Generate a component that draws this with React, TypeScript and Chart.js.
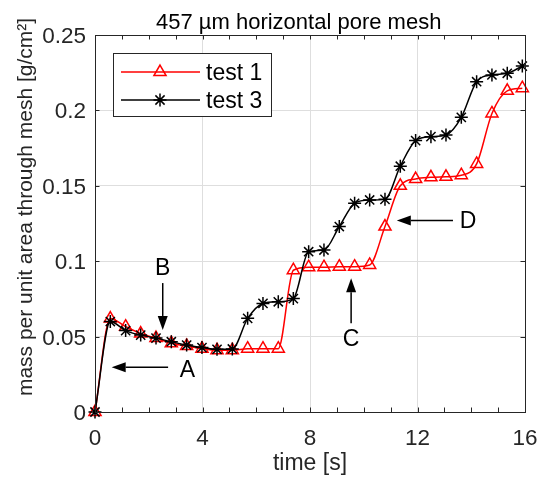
import React, { useEffect, useRef } from 'react';
import { Chart, registerables } from 'chart.js';
Chart.register(...registerables);

// ---- data ----
const time = [0, 0.57, 1.14, 1.7, 2.27, 2.84, 3.41, 3.98, 4.54, 5.11, 5.68, 6.25, 6.82, 7.38, 7.95, 8.52, 9.09, 9.66, 10.22, 10.79, 11.36, 11.93, 12.5, 13.06, 13.63, 14.2, 14.77, 15.34, 15.9];
const test1 = [0, 0.062, 0.0566, 0.052, 0.049, 0.0456, 0.0438, 0.042, 0.041, 0.041, 0.042, 0.042, 0.042, 0.094, 0.096, 0.096, 0.0964, 0.0964, 0.0975, 0.123, 0.15, 0.1545, 0.1556, 0.156, 0.157, 0.1645, 0.198, 0.213, 0.2147];
const test3 = [0, 0.06, 0.054, 0.051, 0.049, 0.0466, 0.0444, 0.0427, 0.0416, 0.0418, 0.0621, 0.072, 0.0731, 0.0752, 0.1063, 0.1074, 0.123, 0.1384, 0.1406, 0.141, 0.163, 0.18, 0.1826, 0.1837, 0.1954, 0.219, 0.2235, 0.2246, 0.2294];
const seriesNames = ['test 1', 'test 3'];
const xTicks = [0, 4, 8, 12, 16];
const xTickLabels = ['0', '4', '8', '12', '16'];
const yTicks = [0, 0.05, 0.1, 0.15, 0.2, 0.25];
const yTickLabels = ['0', '0.05', '0.1', '0.15', '0.2', '0.25'];
const titleText = '457 \u00b5m horizontal pore mesh';
const xTitle = 'time [s]';
const yTitle = 'mass per unit area through mesh [g/cm\u00b2]';
// annotation arrows (data coordinates)
const arrowLabels = ['A', 'B', 'C', 'D'];
const arrowTails = [[2.72, 0.0296], [2.52, 0.0855], [9.53, 0.0588], [13.32, 0.127]];
const arrowTips = [[0.62, 0.0296], [2.52, 0.0544], [9.53, 0.0887], [11.23, 0.127]];
const arrowLabelPos = [[3.44, 0.0282], [2.52, 0.0962], [9.53, 0.049], [13.88, 0.127]];

const FONT = '"Liberation Sans", Arial, Helvetica, sans-serif';
const AX = '#262626';
const RED = '#ff0000';

function drawTriangle(ctx: CanvasRenderingContext2D, x: number, y: number, r: number) {
  ctx.beginPath();
  let rad = 0;
  ctx.moveTo(x + Math.sin(rad) * r, y - Math.cos(rad) * r);
  rad += (2 * Math.PI) / 3;
  ctx.lineTo(x + Math.sin(rad) * r, y - Math.cos(rad) * r);
  rad += (2 * Math.PI) / 3;
  ctx.lineTo(x + Math.sin(rad) * r, y - Math.cos(rad) * r);
  ctx.closePath();
  ctx.stroke();
}
function drawStar(ctx: CanvasRenderingContext2D, x: number, y: number, r: number) {
  ctx.beginPath();
  for (let k = 0; k < 4; k++) {
    const a = (k * Math.PI) / 4;
    ctx.moveTo(x - Math.cos(a) * r, y - Math.sin(a) * r);
    ctx.lineTo(x + Math.cos(a) * r, y + Math.sin(a) * r);
  }
  ctx.stroke();
}

const decorPlugin = {
  id: 'decor',
  afterDatasetsDraw(chart: any) {
    const { ctx, chartArea: a, scales } = chart;
    const xs = scales.x, ys = scales.y;
    ctx.save();
    // box
    ctx.strokeStyle = AX;
    ctx.lineWidth = 1;
    ctx.strokeRect(Math.round(a.left) + 0.5, Math.round(a.top) + 0.5, Math.round(a.right - a.left), Math.round(a.bottom - a.top));
    // ticks (inward)
    const tl = 4.5;
    ctx.beginPath();
    for (let t = 0; t <= 16; t += 1) {
      const px = Math.round(xs.getPixelForValue(t)) + 0.5;
      ctx.moveTo(px, a.bottom);
      ctx.lineTo(px, a.bottom - tl);
      ctx.moveTo(px, a.top);
      ctx.lineTo(px, a.top + tl);
    }
    for (const v of yTicks) {
      const py = Math.round(ys.getPixelForValue(v)) + 0.5;
      ctx.moveTo(a.left, py);
      ctx.lineTo(a.left + tl, py);
      ctx.moveTo(a.right, py);
      ctx.lineTo(a.right - tl, py);
    }
    ctx.stroke();

    // tick labels
    ctx.fillStyle = AX;
    ctx.font = `22.5px ${FONT}`;
    ctx.textAlign = 'center';
    ctx.textBaseline = 'alphabetic';
    xTicks.forEach((v, i) => ctx.fillText(xTickLabels[i], xs.getPixelForValue(v), a.bottom + 33));
    ctx.textAlign = 'right';
    yTicks.forEach((v, i) => ctx.fillText(yTickLabels[i], a.left - 9, ys.getPixelForValue(v) + 8));

    // legend
    const lx = 113, ly = 53, lw = 158, lh = 63;
    ctx.fillStyle = '#ffffff';
    ctx.fillRect(lx, ly, lw, lh);
    ctx.strokeStyle = AX;
    ctx.lineWidth = 1;
    ctx.strokeRect(lx + 0.5, ly + 0.5, lw, lh);
    const rows = [72, 100];
    const colors = [RED, '#000000'];
    rows.forEach((ry, i) => {
      ctx.strokeStyle = colors[i];
      ctx.lineWidth = 1.5;
      ctx.beginPath();
      ctx.moveTo(121, ry);
      ctx.lineTo(200, ry);
      ctx.stroke();
      if (i === 0) drawTriangle(ctx, 160, ry, 7);
      else drawStar(ctx, 160, ry, 6.5);
      ctx.fillStyle = '#000';
      ctx.font = `23px ${FONT}`;
      ctx.textAlign = 'left';
      ctx.textBaseline = 'alphabetic';
      ctx.fillText(seriesNames[i], 206, ry + 8);
    });

    // arrows
    ctx.strokeStyle = '#000';
    ctx.fillStyle = '#000';
    ctx.lineWidth = 1.5;
    arrowLabels.forEach((lab, i) => {
      const x0 = xs.getPixelForValue(arrowTails[i][0]);
      const y0 = ys.getPixelForValue(arrowTails[i][1]);
      const x1 = xs.getPixelForValue(arrowTips[i][0]);
      const y1 = ys.getPixelForValue(arrowTips[i][1]);
      const ang = Math.atan2(y1 - y0, x1 - x0);
      const hl = 14, hw = 5;
      const bx = x1 - Math.cos(ang) * hl, by = y1 - Math.sin(ang) * hl;
      ctx.beginPath();
      ctx.moveTo(x0, y0);
      ctx.lineTo(bx, by);
      ctx.stroke();
      ctx.beginPath();
      ctx.moveTo(x1, y1);
      ctx.lineTo(bx - Math.sin(ang) * hw, by + Math.cos(ang) * hw);
      ctx.lineTo(bx + Math.sin(ang) * hw, by - Math.cos(ang) * hw);
      ctx.closePath();
      ctx.fill();
      ctx.font = `23px ${FONT}`;
      ctx.textAlign = 'center';
      ctx.textBaseline = 'alphabetic';
      ctx.fillText(lab, xs.getPixelForValue(arrowLabelPos[i][0]), ys.getPixelForValue(arrowLabelPos[i][1]) + 8);
    });

    // titles
    ctx.fillStyle = '#000';
    ctx.font = `22px ${FONT}`;
    ctx.textAlign = 'left';
    ctx.textBaseline = 'alphabetic';
    ctx.fillText(titleText, 156, 29);
    ctx.fillStyle = AX;
    ctx.font = `23px ${FONT}`;
    ctx.textAlign = 'center';
    ctx.fillText(xTitle, (a.left + a.right) / 2, 470);
    ctx.save();
    ctx.translate(32, 207);
    ctx.rotate(-Math.PI / 2);
    ctx.font = `21px ${FONT}`;
    ctx.fillText(yTitle, 0, 0);
    ctx.restore();
    ctx.restore();
  },
};

export default function App() {
  const ref = useRef<HTMLCanvasElement>(null);
  useEffect(() => {
    const chart = new Chart(ref.current!, {
      type: 'line',
      data: {
        datasets: [
          {
            label: seriesNames[0],
            data: time.map((t, i) => ({ x: t, y: test1[i] })),
            borderColor: RED,
            backgroundColor: 'rgba(0,0,0,0)',
            borderWidth: 1.5,
            pointStyle: 'triangle',
            pointRadius: 7,
            pointBorderWidth: 1.5,
            pointBorderColor: RED,
            pointBackgroundColor: 'rgba(0,0,0,0)',
            cubicInterpolationMode: 'monotone',
            clip: false,
            order: 2,
          },
          {
            label: seriesNames[1],
            data: time.map((t, i) => ({ x: t, y: test3[i] })),
            borderColor: '#000000',
            backgroundColor: 'rgba(0,0,0,0)',
            borderWidth: 1.5,
            pointStyle: 'star',
            pointRadius: 6.5,
            pointBorderWidth: 1.5,
            pointBorderColor: '#000000',
            pointBackgroundColor: 'rgba(0,0,0,0)',
            cubicInterpolationMode: 'monotone',
            clip: false,
            order: 1,
          },
        ],
      },
      options: {
        responsive: false,
        devicePixelRatio: 1,
        animation: false,
        layout: { padding: { left: 0, top: 35, right: 19, bottom: 0 } },
        plugins: { legend: { display: false }, title: { display: false }, tooltip: { enabled: false } },
        scales: {
          x: {
            type: 'linear',
            min: 0,
            max: 16,
            afterBuildTicks: (s: any) => { s.ticks = xTicks.map((v) => ({ value: v })); },
            afterFit: (s: any) => { s.height = 68; s.paddingLeft = 0; s.paddingRight = 0; },
            ticks: { display: false },
            grid: { color: '#dedede', lineWidth: 1, drawTicks: false },
            border: { display: false },
          },
          y: {
            type: 'linear',
            min: 0,
            max: 0.25,
            afterBuildTicks: (s: any) => { s.ticks = yTicks.map((v) => ({ value: v })); },
            afterFit: (s: any) => { s.width = 95; s.paddingTop = 0; s.paddingBottom = 0; },
            ticks: { display: false },
            grid: { color: '#dedede', lineWidth: 1, drawTicks: false },
            border: { display: false },
          },
        },
      },
      plugins: [decorPlugin],
    } as any);
    return () => chart.destroy();
  }, []);
  return (
    <div style={{ position: 'fixed', left: 0, top: 0, width: 544, height: 480, background: '#ffffff' }}>
      <canvas ref={ref} width={544} height={480} style={{ width: 544, height: 480, display: 'block' }} />
    </div>
  );
}
